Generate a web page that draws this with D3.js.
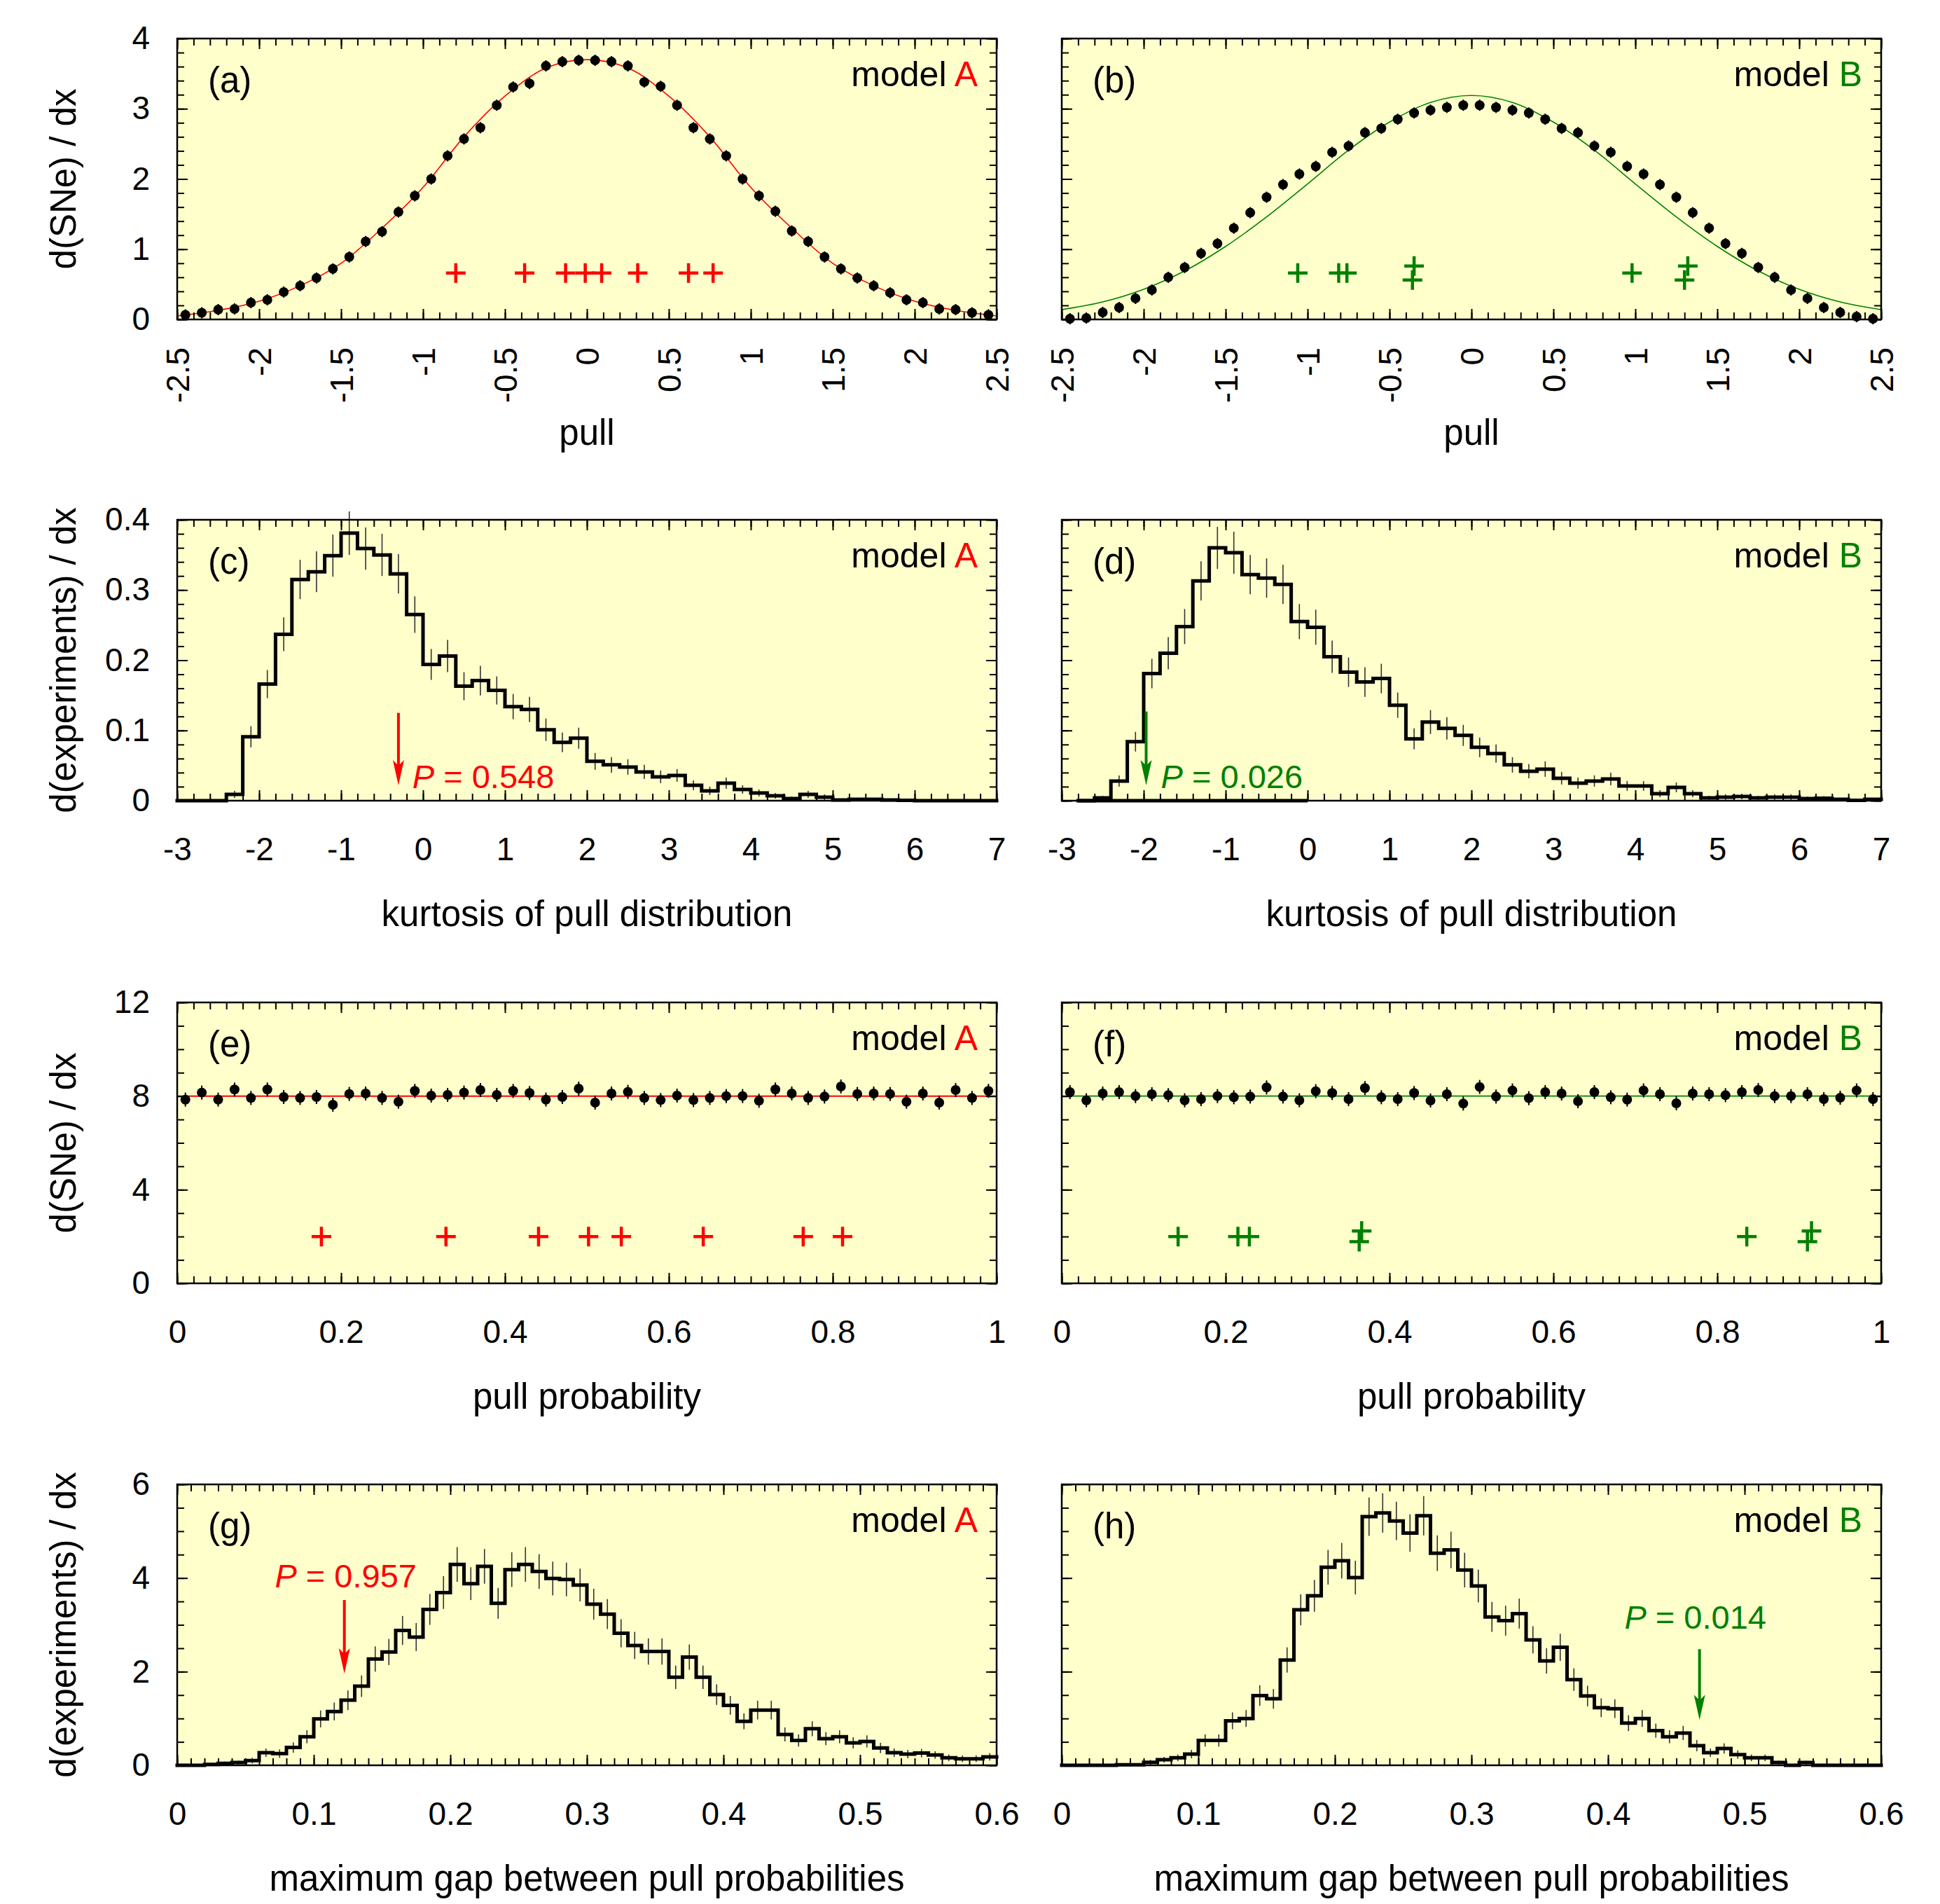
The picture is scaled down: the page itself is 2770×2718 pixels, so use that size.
<!DOCTYPE html>
<html>
<head>
<meta charset="utf-8">
<script src="https://cdn.jsdelivr.net/npm/d3@7"></script>
<style>
  body { margin: 0; background: #fff; }
  svg { display: block; }
</style>
</head>
<body>
<svg id="fig" width="2770" height="2718"></svg>
<script>
// ---- data ----

// (a),(b): pulls of the SNe, 50 bins of width 0.1 starting at -2.5
var pullStart = -2.5, pullStep = 0.1;
var pullA = [0.065,0.095,0.14,0.15,0.24,0.28,0.39,0.48,0.59,0.72,0.89,1.11,1.25,1.53,1.76,2.00,2.33,2.57,2.73,3.05,3.31,3.36,3.61,3.67,3.69,
             3.69,3.67,3.61,3.38,3.32,3.05,2.73,2.57,2.33,2.00,1.76,1.54,1.26,1.11,0.89,0.72,0.59,0.48,0.38,0.28,0.24,0.15,0.14,0.095,0.065];
var pullB = [0.01,0.02,0.10,0.17,0.30,0.42,0.60,0.74,0.94,1.08,1.30,1.52,1.74,1.92,2.07,2.18,2.38,2.47,2.66,2.72,2.85,2.94,2.98,3.02,3.05,
             3.05,3.02,2.98,2.94,2.85,2.72,2.66,2.47,2.38,2.18,2.07,1.92,1.74,1.52,1.30,1.08,0.94,0.74,0.60,0.42,0.30,0.17,0.10,0.04,0.01];
var pullErr = 0.08;
// expected curves
var curveX = [-2.5,-2.25,-2,-1.75,-1.5,-1.25,-1,-0.75,-0.5,-0.25,0,0.25,0.5,0.75,1,1.25,1.5,1.75,2,2.25,2.5];
var curveA = [0.05,0.13,0.26,0.48,0.80,1.30,1.88,2.60,3.18,3.58,3.70,3.58,3.18,2.60,1.88,1.30,0.80,0.48,0.26,0.13,0.05];
var curveB = [0.14,0.25,0.43,0.69,1.04,1.46,1.93,2.41,2.81,3.09,3.19,3.09,2.81,2.41,1.93,1.46,1.04,0.69,0.43,0.25,0.14];
// observed SNe (crosses)
var obsPullA = [-0.80,-0.38,-0.13,-0.01,0.09,0.31,0.62,0.77];
var obsPullAy = [0.66,0.66,0.66,0.66,0.66,0.66,0.66,0.66];
var obsPullB = [-1.06,-0.81,-0.76,-0.35,-0.36,0.98,1.32,1.30];
var obsPullBy = [0.66,0.66,0.66,0.76,0.56,0.66,0.76,0.56];

// (c),(d): kurtosis of pull distribution, bins of 0.2
var kurtStep = 0.2;
var kurtAStart = -3;
var kurtA = [0,0,0,0.009,0.091,0.166,0.237,0.315,0.326,0.349,0.381,0.359,0.350,0.323,0.265,0.194,0.206,0.163,0.171,0.157,
             0.134,0.130,0.101,0.083,0.089,0.056,0.051,0.048,0.041,0.034,0.036,0.022,0.014,0.025,0.016,0.011,0.007,0.003,0.009,0.005,
             0.001,0.002,0.002,0.001,0.0005,0,0,0,0,0];
var kurtAErr = [0,0,0,0.005,0.015,0.020,0.024,0.028,0.029,0.030,0.031,0.030,0.030,0.028,0.026,0.022,0.023,0.020,0.021,0.020,
                0.018,0.018,0.016,0.014,0.015,0.012,0.011,0.011,0.010,0.009,0.009,0.007,0.006,0.008,0.006,0.005,0.004,0.003,0.005,0.004,
                0.002,0.002,0.002,0.002,0.001,0,0,0,0,0];
var kurtBStart = -2.8;
var kurtB = [0,0.004,0.028,0.084,0.181,0.210,0.248,0.313,0.360,0.353,0.322,0.317,0.308,0.255,0.247,0.205,0.183,0.169,0.174,
             0.136,0.088,0.112,0.103,0.093,0.076,0.067,0.051,0.042,0.045,0.032,0.025,0.028,0.031,0.021,0.021,0.010,0.019,0.010,0.004,
             0.005,0.006,0.004,0.005,0.005,0.003,0.0035,0.002,0.0005,0.002];
var kurtBErr = [0,0.003,0.008,0.014,0.021,0.023,0.025,0.028,0.030,0.030,0.028,0.028,0.028,0.025,0.025,0.023,0.021,0.021,0.021,
                0.018,0.015,0.017,0.016,0.015,0.014,0.013,0.011,0.010,0.011,0.009,0.008,0.008,0.009,0.007,0.007,0.005,0.007,0.005,0.003,
                0.004,0.004,0.003,0.004,0.004,0.003,0.003,0.002,0.001,0.002];
var kurtBBase = [-2.8, 0];

// (e),(f): pull probabilities, 50 bins of 0.02
var probStart = 0, probStep = 0.02;
var probA = [7.85,8.15,7.85,8.28,7.92,8.28,7.96,7.92,7.96,7.63,8.09,8.11,7.92,7.76,8.22,8.02,8.05,8.15,8.26,8.05,
             8.22,8.13,7.85,7.96,8.32,7.72,8.11,8.18,7.92,7.83,8.02,7.83,7.92,8.00,8.00,7.80,8.28,8.11,7.92,7.98,
             8.41,8.09,8.11,8.09,7.76,8.11,7.72,8.26,7.92,8.22];
var probB = [8.17,7.82,8.11,8.17,8.00,8.08,8.04,7.82,7.87,8.00,7.95,7.98,8.37,7.98,7.82,8.21,8.13,7.87,8.34,7.95,
             7.87,8.13,7.81,8.08,7.68,8.39,7.98,8.24,7.91,8.17,8.11,7.78,8.17,7.95,7.85,8.24,8.08,7.69,8.11,8.08,
             8.04,8.17,8.26,8.00,8.00,8.08,7.87,7.93,8.24,7.87];
var probErr = 0.3;
var probFlat = 8;
var obsProbA = [0.176,0.328,0.441,0.502,0.542,0.642,0.764,0.812];
var obsProbAy = [2,2,2,2,2,2,2,2];
var obsProbB = [0.142,0.215,0.229,0.366,0.363,0.836,0.915,0.910];
var obsProbBy = [2,2,2,2.24,1.78,2,2.24,1.78];

// (g),(h): maximum gap between pull probabilities, 60 bins of 0.01
var gapStart = 0, gapStep = 0.01;
var gapA = [0,0,0.02,0.04,0.06,0.10,0.27,0.25,0.38,0.61,0.99,1.15,1.39,1.69,2.27,2.42,2.88,2.74,3.33,3.69,
            4.29,3.88,4.25,3.46,4.18,4.29,4.14,3.99,3.97,3.85,3.44,3.23,2.82,2.56,2.43,2.43,1.88,2.31,1.88,1.51,
            1.28,0.94,1.18,1.18,0.66,0.53,0.78,0.57,0.61,0.48,0.51,0.37,0.27,0.24,0.26,0.22,0.16,0.14,0.14,0.18];
var gapAErr = [0,0,0.03,0.04,0.04,0.06,0.09,0.09,0.11,0.14,0.18,0.19,0.21,0.23,0.27,0.28,0.31,0.30,0.33,0.35,
               0.37,0.35,0.37,0.33,0.37,0.37,0.37,0.36,0.36,0.35,0.33,0.32,0.30,0.29,0.28,0.28,0.25,0.27,0.25,0.22,
               0.20,0.17,0.20,0.20,0.15,0.13,0.16,0.14,0.14,0.12,0.13,0.11,0.09,0.09,0.09,0.08,0.07,0.07,0.07,0.08];
var gapB = [0,0,0,0,0.01,0.01,0.065,0.12,0.16,0.24,0.53,0.53,0.95,1.00,1.49,1.42,2.25,3.32,3.62,4.23,
            4.37,4.01,5.31,5.39,5.22,4.96,5.33,4.53,4.60,4.17,3.83,3.17,3.09,3.24,2.68,2.23,2.52,1.83,1.48,1.23,
            1.21,0.90,1.00,0.74,0.61,0.69,0.42,0.27,0.36,0.23,0.16,0.16,0.06,0,0.06,0,0,0,0,0];
var gapBErr = [0,0,0,0,0.02,0.02,0.05,0.06,0.07,0.09,0.13,0.13,0.18,0.18,0.22,0.21,0.27,0.33,0.34,0.37,
               0.38,0.36,0.41,0.42,0.41,0.40,0.42,0.38,0.39,0.37,0.35,0.32,0.32,0.32,0.29,0.27,0.29,0.24,0.22,0.20,
               0.20,0.17,0.18,0.15,0.14,0.15,0.12,0.09,0.11,0.09,0.07,0.07,0.04,0,0.04,0,0,0,0,0];

// P values of the observed sample, with arrow position (statistic) in data units
var pLabels = ["0.548", "0.026", "0.957", "0.014"];
var pStat   = [-0.30, -1.97, 0.1224, 0.467];

// ---- layout ----
var FONT = '"Liberation Sans", Arial, Helvetica, sans-serif';
var RED = "#ff0000", GREEN = "#008000", BG = "#ffffcc";
var colX = [253, 1516], rowY = [55, 742, 1431, 2119];
var plotW = 1170, plotH = 401;

var svg = d3.select("#fig");
svg.append("rect").attr("width", 2770).attr("height", 2718).attr("fill", "#fff");

function tickVals(dom, step) {
	var n = Math.round((dom[1] - dom[0]) / step);
	return d3.range(n + 1).map(function(i) { return +(dom[0] + i * step).toFixed(4); });
}
function fmt(v) { return String(+v.toFixed(2)); }

function addAxis(g, maker, scale, vals, len, tr, labels, pad) {
	var ax = maker(scale).tickValues(vals).tickSizeInner(-len).tickSizeOuter(0)
		.tickPadding(pad || 0).tickFormat(labels ? fmt : function() { return ""; });
	var a = g.append("g").attr("transform", tr).call(ax);
	a.select(".domain").remove();
	a.selectAll("line").attr("stroke", "#000").attr("stroke-width", 2);
	a.attr("font-family", FONT).attr("font-size", 46);
	a.selectAll("text").attr("fill", "#000");
	return a;
}

function histo(g, x, y, vals, errs, start, step) {
	var pts = vals.map(function(v, i) { return [start + i * step, v]; });
	pts.push([start + vals.length * step, vals[vals.length - 1]]);
	// error bars first, then the step line on top
	g.selectAll(null).data(vals.map(function(v, i) { return {c: start + (i + 0.5) * step, v: v, e: errs[i]}; })
			.filter(function(d) { return d.e > 0; }))
		.enter().append("line")
		.attr("x1", function(d) { return x(d.c); }).attr("x2", function(d) { return x(d.c); })
		.attr("y1", function(d) { return y(d.v - d.e); }).attr("y2", function(d) { return y(d.v + d.e); })
		.attr("stroke", "#333").attr("stroke-width", 1.6);
	g.append("path").attr("d", d3.line().x(function(d) { return x(d[0]); }).y(function(d) { return y(d[1]); })
			.curve(d3.curveStepAfter)(pts))
		.attr("fill", "none").attr("stroke", "#000").attr("stroke-width", 5)
		.attr("stroke-linejoin", "miter").attr("stroke-linecap", "square");
}

function dots(g, x, y, vals, err, start, step) {
	var d = vals.map(function(v, i) { return {c: start + (i + 0.5) * step, v: v}; });
	g.selectAll(null).data(d).enter().append("line")
		.attr("x1", function(p) { return x(p.c); }).attr("x2", function(p) { return x(p.c); })
		.attr("y1", function(p) { return y(p.v - err); }).attr("y2", function(p) { return y(p.v + err); })
		.attr("stroke", "#000").attr("stroke-width", 2);
	g.selectAll(null).data(d).enter().append("circle")
		.attr("cx", function(p) { return x(p.c); }).attr("cy", function(p) { return y(p.v); })
		.attr("r", 7).attr("fill", "#000");
}

function crosses(g, x, y, xs, ys, color) {
	g.selectAll(null).data(xs).enter().append("path")
		.attr("d", function(v, i) {
			var cx = x(v), cy = y(ys[i]);
			return "M" + (cx - 14) + "," + cy + "H" + (cx + 14) + "M" + cx + "," + (cy - 14) + "V" + (cy + 14);
		})
		.attr("stroke", color).attr("stroke-width", 4.5).attr("fill", "none");
}

function smooth(g, x, y, xs, ys, color) {
	g.append("path").attr("d", d3.line().x(function(d) { return x(d); }).y(function(d, i) { return y(ys[i]); })
			.curve(d3.curveCatmullRom.alpha(0.5))(xs))
		.attr("fill", "none").attr("stroke", color).attr("stroke-width", 1.6);
}

function pArrow(g, x, y, k, yTop, yTip, tx, ty, color) {
	var ax = x(pStat[k]);
	g.append("line").attr("x1", ax).attr("x2", ax).attr("y1", y(yTop)).attr("y2", y(yTip) - 28)
		.attr("stroke", color).attr("stroke-width", 4);
	g.append("path").attr("d", "M" + (ax - 8) + "," + (y(yTip) - 36) + "L" + ax + "," + y(yTip) + "L" + (ax + 8) + "," + (y(yTip) - 36) + "L" + ax + "," + (y(yTip) - 28) + "Z")
		.attr("fill", color);
	var t = g.append("text").attr("x", x(tx)).attr("y", y(ty)).attr("font-family", FONT)
		.attr("font-size", 47).attr("fill", color);
	t.append("tspan").attr("font-style", "italic").text("P");
	t.append("tspan").text(" = " + pLabels[k]);
}

var panels = [
	{tag: "(a)", col: 0, row: 0, xd: [-2.5, 2.5], yd: [0, 4], xM: 0.5, xm: 0.1, yM: 1, ym: 0.2, rot: true,
	 xt: "pull", yt: "d(SNe) / dx", model: "A",
	 draw: function(g, x, y) {
		smooth(g, x, y, curveX, curveA, RED);
		dots(g, x, y, pullA, pullErr, pullStart, pullStep);
		crosses(g, x, y, obsPullA, obsPullAy, RED);
	 }},
	{tag: "(b)", col: 1, row: 0, xd: [-2.5, 2.5], yd: [0, 4], xM: 0.5, xm: 0.1, yM: 1, ym: 0.2, rot: true,
	 xt: "pull", model: "B",
	 draw: function(g, x, y) {
		smooth(g, x, y, curveX, curveB, GREEN);
		dots(g, x, y, pullB, pullErr, pullStart, pullStep);
		crosses(g, x, y, obsPullB, obsPullBy, GREEN);
	 }},
	{tag: "(c)", col: 0, row: 1, xd: [-3, 7], yd: [0, 0.4], xM: 1, xm: 0.2, yM: 0.1, ym: 0.02,
	 xt: "kurtosis of pull distribution", yt: "d(experiments) / dx", model: "A",
	 draw: function(g, x, y) {
		histo(g, x, y, kurtA, kurtAErr, kurtAStart, kurtStep);
		pArrow(g, x, y, 0, 0.125, 0.022, -0.13, 0.018, RED);
	 }},
	{tag: "(d)", col: 1, row: 1, xd: [-3, 7], yd: [0, 0.4], xM: 1, xm: 0.2, yM: 0.1, ym: 0.02,
	 xt: "kurtosis of pull distribution", model: "B",
	 draw: function(g, x, y) {
		histo(g, x, y, kurtB, kurtBErr, kurtBStart, kurtStep);
		g.append("line").attr("x1", x(kurtBBase[0])).attr("x2", x(kurtBBase[1])).attr("y1", y(0)).attr("y2", y(0))
			.attr("stroke", "#000").attr("stroke-width", 5);
		pArrow(g, x, y, 1, 0.127, 0.022, -1.79, 0.018, GREEN);
	 }},
	{tag: "(e)", col: 0, row: 2, xd: [0, 1], yd: [0, 12], xM: 0.2, xm: 0.02, yM: 4, ym: 1,
	 xt: "pull probability", yt: "d(SNe) / dx", model: "A",
	 draw: function(g, x, y) {
		g.append("line").attr("x1", x(0)).attr("x2", x(1)).attr("y1", y(probFlat)).attr("y2", y(probFlat))
			.attr("stroke", RED).attr("stroke-width", 2);
		dots(g, x, y, probA, probErr, probStart, probStep);
		crosses(g, x, y, obsProbA, obsProbAy, RED);
	 }},
	{tag: "(f)", col: 1, row: 2, xd: [0, 1], yd: [0, 12], xM: 0.2, xm: 0.02, yM: 4, ym: 1,
	 xt: "pull probability", model: "B",
	 draw: function(g, x, y) {
		g.append("line").attr("x1", x(0)).attr("x2", x(1)).attr("y1", y(probFlat)).attr("y2", y(probFlat))
			.attr("stroke", GREEN).attr("stroke-width", 1.8);
		dots(g, x, y, probB, probErr, probStart, probStep);
		crosses(g, x, y, obsProbB, obsProbBy, GREEN);
	 }},
	{tag: "(g)", col: 0, row: 3, xd: [0, 0.6], yd: [0, 6], xM: 0.1, xm: 0.01, yM: 2, ym: 0.5,
	 xt: "maximum gap between pull probabilities", yt: "d(experiments) / dx", model: "A",
	 draw: function(g, x, y) {
		histo(g, x, y, gapA, gapAErr, gapStart, gapStep);
		pArrow(g, x, y, 2, 3.53, 1.96, 0.0715, 3.8, RED);
	 }},
	{tag: "(h)", col: 1, row: 3, xd: [0, 0.6], yd: [0, 6], xM: 0.1, xm: 0.01, yM: 2, ym: 0.5,
	 xt: "maximum gap between pull probabilities", model: "B",
	 draw: function(g, x, y) {
		histo(g, x, y, gapB, gapBErr, gapStart, gapStep);
		pArrow(g, x, y, 3, 2.48, 0.97, 0.412, 2.92, GREEN);
	 }}
];

panels.forEach(function(p) {
	var g = svg.append("g").attr("transform", "translate(" + colX[p.col] + "," + rowY[p.row] + ")");
	var x = d3.scaleLinear().domain(p.xd).range([0, plotW]);
	var y = d3.scaleLinear().domain(p.yd).range([plotH, 0]);

	g.append("rect").attr("width", plotW).attr("height", plotH).attr("fill", BG);
	p.draw(g.append("g"), x, y);

	// minor ticks on all four sides
	addAxis(g, d3.axisBottom, x, tickVals(p.xd, p.xm), 10, "translate(0," + plotH + ")");
	addAxis(g, d3.axisTop, x, tickVals(p.xd, p.xm), 10, "translate(0,0)");
	addAxis(g, d3.axisLeft, y, tickVals(p.yd, p.ym), 10, "translate(0,0)");
	addAxis(g, d3.axisRight, y, tickVals(p.yd, p.ym), 10, "translate(" + plotW + ",0)");
	// major ticks, labels on bottom and (left column) left
	var bx = addAxis(g, d3.axisBottom, x, tickVals(p.xd, p.xM), 15, "translate(0," + plotH + ")", true, 52);
	if (p.rot) {
		bx.selectAll("text").attr("transform", "rotate(-90)").attr("text-anchor", "end")
			.attr("x", -40).attr("y", 0).attr("dy", "0.36em");
	}
	addAxis(g, d3.axisTop, x, tickVals(p.xd, p.xM), 15, "translate(0,0)");
	addAxis(g, d3.axisLeft, y, tickVals(p.yd, p.yM), 15, "translate(0,0)", p.col === 0, 39);
	addAxis(g, d3.axisRight, y, tickVals(p.yd, p.yM), 15, "translate(" + plotW + ",0)");

	g.append("rect").attr("width", plotW).attr("height", plotH)
		.attr("fill", "none").attr("stroke", "#000").attr("stroke-width", 2.5);

	// panel tag and model name
	g.append("text").attr("x", 44).attr("y", 77).attr("font-family", FONT).attr("font-size", 51).text(p.tag);
	var m = g.append("text").attr("x", plotW - 27).attr("y", 68).attr("text-anchor", "end")
		.attr("font-family", FONT).attr("font-size", 50);
	m.append("tspan").attr("fill", "#000").text("model ");
	m.append("tspan").attr("fill", p.model === "A" ? RED : GREEN).text(p.model);

	// axis titles
	g.append("text").attr("x", plotW / 2).attr("y", plotH + 179).attr("text-anchor", "middle")
		.attr("font-family", FONT).attr("font-size", 51).text(p.xt);
	if (p.yt) {
		g.append("text").attr("transform", "translate(" + (108 - colX[0]) + "," + (plotH / 2) + ") rotate(-90)")
			.attr("text-anchor", "middle").attr("font-family", FONT).attr("font-size", 51).text(p.yt);
	}
});
</script>
</body>
</html>
